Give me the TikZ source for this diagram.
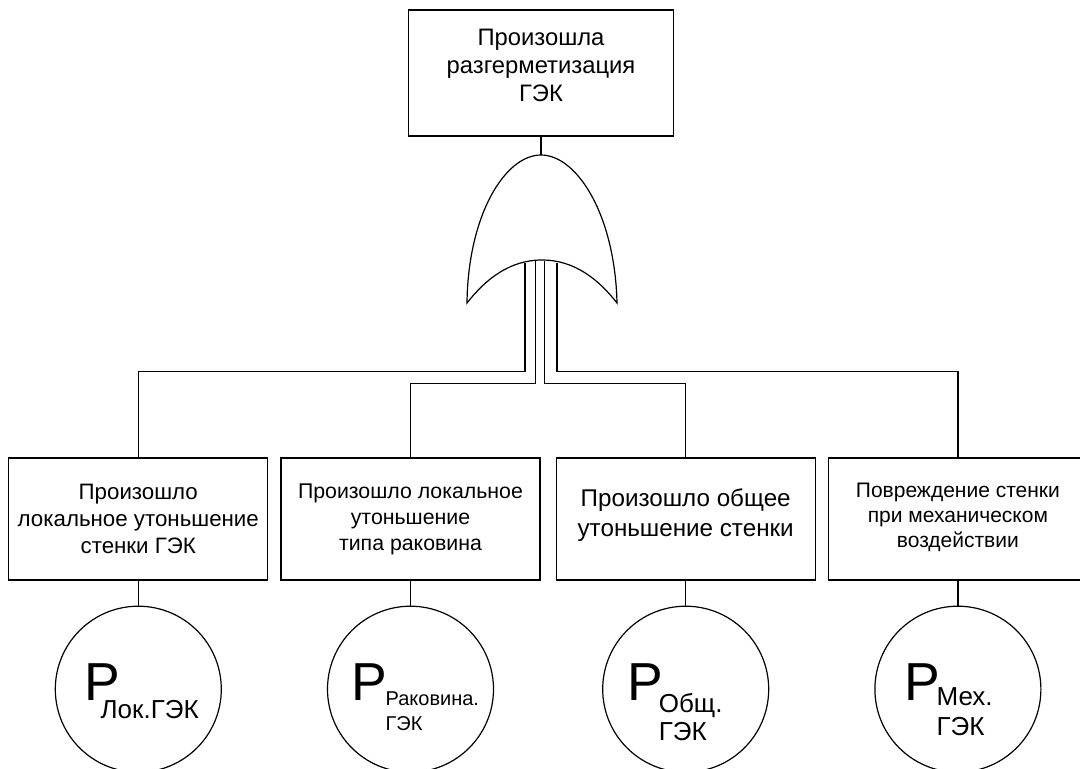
\documentclass[tikz,border=0pt]{standalone}
\usepackage{fontspec}
\setmainfont{Liberation Sans}
\usepackage{tikz}
\usetikzlibrary{positioning}
\tikzset{
    event/.style={rectangle, draw=black, line width=1.2pt, fill=white, align=center, minimum width=259pt, minimum height=122pt, inner sep=2pt},
    topevent/.style={event, minimum width=265pt, minimum height=126pt},
    basic/.style={circle, draw=black, line width=1.2pt, fill=white, minimum size=166pt, inner sep=0pt, text height=22pt, text depth=0pt},
    gate/.style={draw=black, line width=1.2pt, fill=white},
    wire/.style={line width=1.2pt}
}
% #1 lead, #2 kern after P, #3 drop, #4 size, #5 skip, #6 index lines
\newcommand{\prob}[6]{\kern#1{\fontsize{53.5}{53.5}\selectfont P}\kern#2\raisebox{-#3}{\fontsize{#4}{#5}\selectfont\begin{tabular}[t]{@{}l@{}}#6\end{tabular}}}

\begin{document}
\begin{tikzpicture}[x=1pt, y=-1pt, node distance=12pt]
        \useasboundingbox (0,0) rectangle (1080,769);

        % Top event
        \node[topevent, font=\fontsize{23.8}{28}\selectfont, text depth=15pt] (Top) at (541,73) {Произошла\\разгерметизация\\ГЭК};

        % Intermediate events
        \node[event, font=\fontsize{22.3}{26.7}\selectfont] (Loc) at (138.3,519) {Произошло\\локальное утоньшение\\стенки ГЭК};
        \node[event, right=12pt of Loc, font=\fontsize{21.3}{26}\selectfont] (Pit) {Произошло локальное\\утоньшение\\типа раковина};
        \node[event, right=15pt of Pit, font=\fontsize{24.2}{30}\selectfont, text depth=13pt] (Gen) {Произошло общее\\утоньшение стенки};
        \node[event, right=12pt of Gen, font=\fontsize{21}{25}\selectfont, text depth=7pt] (Mech) {Повреждение стенки\\при механическом\\воздействии};

        % Basic events
        \node[basic, below=25pt of Loc] (PLoc) {\prob{7pt}{-20pt}{18.3pt}{26}{26}{Лок.ГЭК}};
        \node[basic, below=25pt of Pit] (PPit) {\prob{10pt}{-2pt}{5.7pt}{20}{24.3}{Раковина.\\ГЭК}};
        \node[basic, below=25pt of Gen] (PGen) {\prob{-21pt}{-4.7pt}{12.7pt}{26}{27.3}{Общ.\\ГЭК}};
        \node[basic, below=25pt of Mech] (PMech) {\prob{-19pt}{-3.3pt}{5pt}{26}{30}{Мех.\\ГЭК}};

        % OR gate
        \draw[gate] (467,303) .. controls (468,215) and (505,155) .. (541,155)
            .. controls (577,155) and (615,215) .. (617,303)
            .. controls (599,280) and (575,260) .. (542,260)
            .. controls (509,260) and (485,280) .. (467,303) -- cycle;
        \coordinate (OrOut) at (541,155);
        \coordinate (In1) at (525,262.5);
        \coordinate (In2) at (535.5,260.5);
        \coordinate (In3) at (544.5,260.5);
        \coordinate (In4) at (557,262.5);

        % Connections
        \draw[wire] (Top) -- (OrOut);
        \draw[wire] (In1) |- ([yshift=86pt]Loc.north) -- (Loc.north);
        \draw[wire] (In2) |- ([yshift=74pt]Pit.north) -- (Pit.north);
        \draw[wire] (In3) |- ([yshift=74pt]Gen.north) -- (Gen.north);
        \draw[wire] (In4) |- ([yshift=86pt]Mech.north) -- (Mech.north);
        \foreach \e/\p in {Loc/PLoc, Pit/PPit, Gen/PGen, Mech/PMech}
            \draw[wire] (\e) -- (\p);

    \end{tikzpicture}
\end{document}
